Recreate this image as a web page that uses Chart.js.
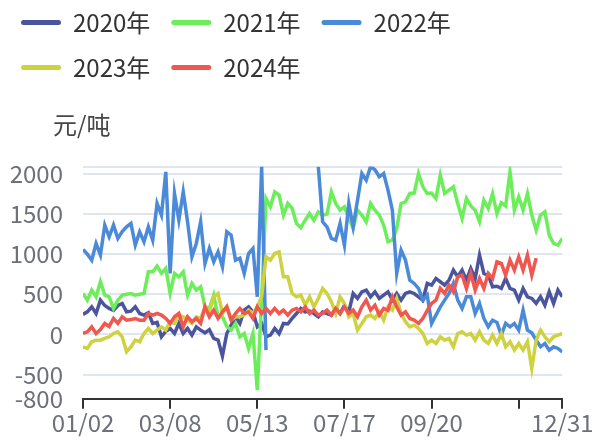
<!DOCTYPE html>
<html>
<head>
<meta charset="utf-8">
<script src="https://cdn.jsdelivr.net/npm/chart.js@4.4.1/dist/chart.umd.min.js"></script>
<style>
    html, body { margin: 0; padding: 0; background: #ffffff; }
    #wrap { width: 600px; height: 441px; }
</style>
</head>
<body>
<div id="wrap"><canvas id="priceChart" width="600" height="441"></canvas></div>
<script>
// --- data (one value per slot, slot 0 = 01/02, slot 110 = 12/31) ---
const xTickPos = [0, 20, 40, 60, 80, 100, 110];
const xTickLabels = ['01/02', '03/08', '05/13', '07/17', '09/20', '', '12/31'];
const yTickVals = [-800, -500, 0, 500, 1000, 1500, 2000];
const yMin = -800;
const yMax = 2090;

const seriesNames = ['2020年', '2021年', '2022年', '2023年', '2024年'];
const seriesColors = ['#4b559e', '#6cee5a', '#4a8ad8', '#cfd23f', '#f0574f'];

const s2020 = [
    250, 282, 344, 261, 427, 360, 324, 300, 360, 386,
    282, 290, 344, 261, 241, 270, 137, 150, -29, 40,
    75, 12, 137, 12, 75, -8, 95, 54, 20, 60,
    -50, -71, -270, 12, 116, 220, 137, 303, 344, 282,
    95, 137, -29, -8, 75, 10, 137, 130, 199, 261,
    324, 282, 290, 261, 220, 280, 260, 241, 320, 261,
    365, 280, 510, 448, 531, 552, 469, 531, 448, 490,
    531, 427, 510, 427, 510, 531, 510, 469, 427, 635,
    614, 697, 656, 614, 676, 801, 718, 801, 676, 822,
    697, 988, 760, 739, 593, 600, 573, 697, 573, 552,
    427, 573, 469, 448, 386, 469, 365, 531, 386, 552, 469
];
const s2021 = [
    510, 427, 552, 469, 656, 490, 469, 324, 427, 490,
    500, 510, 490, 500, 510, 780, 780, 850, 760, 822,
    510, 760, 718, 780, 490, 635, 552, 593, 344, 324,
    490, 220, 220, 100, 54, 137, -29, 12, -174, 12,
    -693, 450, 1693, 1590, 1776, 1735, 1486, 1631, 1569, 1382,
    1330, 1423, 1506, 1423, 1527, 1486, 1500, 1776, 1631, 1548,
    1590, 1450, 1320, 1548, 1486, 1403, 1631, 1548, 1486, 1361,
    1154, 1174, 1320, 1631, 1652, 1755, 1760, 2004, 1838, 1755,
    1760, 1693, 1984, 1755, 1797, 1838, 1631, 1444, 1693, 1600,
    1548, 1403, 1672, 1569, 1755, 1506, 1640, 1600, 2025, 1548,
    1714, 1548, 1755, 1486, 1299, 1486, 1527, 1237, 1133, 1112, 1195
];
const s2022 = [
    1058, 1000, 925, 1133, 988, 1361, 1216, 1361, 1195, 1280,
    1340, 1382, 1112, 1278, 1154, 1340, 1174, 1631, 1486, 2025,
    760, 1755, 1423, 1776, 1403, 967, 1133, 1403, 884, 1071,
    905, 1029, 842, 1278, 1237, 925, 950, 760, 1008, 1071,
    469, 2090, -195, null, null, null, null, null, null, null,
    null, null, null, null, 2090, 1403, 1340, 1195, 1174, 1382,
    1112, 1631, 1340, 1672, 2004, 1921, 2090, 2050, 1963, 2004,
    1797, 1548, 760, 1050, 925, 676, 635, 573, 427, 490,
    137, 241, 344, 427, 510, 635, 427, 324, 469, 469,
    261, 386, 200, 95, 178, 150, -8, 137, 95, 137,
    54, 303, 54, 20, -71, -154, -112, -195, -154, -174, -216
];
const s2023 = [
    -154, -174, -91, -71, -71, -50, -29, 12, 33, -29,
    -216, -154, -71, -91, 12, 75, 12, 54, 95, 54,
    158, 137, 241, 220, 178, 137, 220, 200, 344, 282,
    469, 510, 261, 344, 178, 220, 220, 241, 303, 261,
    344, 469, 967, 925, 1008, 1029, 718, 718, 510, 469,
    490, 365, 469, 344, 448, 573, 510, 407, 261, 469,
    386, 220, 261, 54, 137, 220, 241, 199, 282, 180,
    344, 303, 448, 261, 158, 95, 116, 75, 12, -112,
    -71, -112, -29, -71, -50, -154, 12, 33, -8, 12,
    -71, 33, -71, -112, -8, -112, 12, -154, -91, -195,
    -112, -195, -91, -423, -71, 54, -29, -91, -29, -8, 12
];
const s2024 = [
    12, 33, 95, 12, 60, 137, 100, 199, 137, 220,
    178, 185, 199, 178, 178, 261, 241, 261, 241, 199,
    137, 220, 261, 95, 220, 160, 199, 137, 344, 220,
    303, 200, 282, 344, 178, 261, 324, 261, 282, 199,
    344, 261, 324, 261, 324, 261, 303, 241, 303, 324,
    282, 344, 261, 303, 241, 261, 303, 241, 324, 261,
    344, 261, 303, 220, 344, 427, 303, 365, 241, 324,
    300, 469, 344, 241, 282, 199, 178, 137, 199, 300,
    386, 427, 573, 510, 614, 531, 718, 739, 573, 760,
    552, 697, 573, 760, 697, 905, 884, 739, 925, 801,
    967, 801, 988, 739, 950, null, null, null, null, null, null
];

const FONT = "'Noto Sans CJK SC', 'Noto Sans', sans-serif";

document.addEventListener('DOMContentLoaded', function () {
    const allSeries = [s2020, s2021, s2022, s2023, s2024];

    const datasets = allSeries.map((vals, k) => ({
        label: seriesNames[k],
        data: vals.map((v, i) => ({ x: i, y: v })),
        borderColor: seriesColors[k],
        backgroundColor: seriesColors[k],
        borderWidth: 3.5,
        pointRadius: 0,
        tension: 0,
        spanGaps: false,
        order: allSeries.length - k // later years drawn on top
    }));

    // move the unit label ("元/吨") over the y axis
    const unitLabelPlugin = {
        id: 'unitLabel',
        afterLayout(chart) {
            const t = chart.titleBlock;
            if (t) {
                t.left = chart.chartArea.left - 30;
                t.right = t.left + 200;
            }
        }
    };

    new Chart(document.getElementById('priceChart'), {
        type: 'line',
        data: { datasets },
        plugins: [unitLabelPlugin],
        options: {
            responsive: false,
            animation: false,
            layout: { padding: { top: -10.5, left: 0, right: 37.7, bottom: 3.5 } },
            plugins: {
                legend: {
                    position: 'top',
                    align: 'start',
                    labels: {
                        boxWidth: 40,
                        boxHeight: 5,
                        padding: 21,
                        color: '#333333',
                        useBorderRadius: true,
                        borderRadius: 2.5,
                        font: { size: 24, family: FONT },
                        generateLabels(chart) {
                            const items = Chart.defaults.plugins.legend.labels.generateLabels(chart);
                            items.forEach(it => { it.lineWidth = 0; });
                            return items;
                        },
                        sort: (a, b) => a.datasetIndex - b.datasetIndex
                    }
                },
                title: {
                    display: true,
                    text: '元/吨',
                    align: 'start',
                    weight: 500,
                    color: '#464646',
                    font: { size: 24, family: FONT, weight: 'normal' },
                    padding: { top: 21, bottom: 27.3 }
                },
                tooltip: { enabled: false }
            },
            scales: {
                x: {
                    type: 'linear',
                    min: xTickPos[0],
                    max: xTickPos[xTickPos.length - 1],
                    afterBuildTicks: s => { s.ticks = xTickPos.map(v => ({ value: v })); },
                    ticks: {
                        autoSkip: false,
                        maxRotation: 0,
                        padding: 0,
                        color: '#6e7079',
                        font: { size: 24, family: FONT },
                        callback: (v, i) => xTickLabels[i]
                    },
                    grid: {
                        display: true,
                        drawOnChartArea: false,
                        drawTicks: true,
                        tickLength: 10,
                        color: '#333333',
                        lineWidth: 2
                    },
                    border: { display: true, color: '#333333', width: 2 }
                },
                y: {
                    type: 'linear',
                    min: yMin,
                    max: yMax,
                    afterBuildTicks: s => { s.ticks = yTickVals.concat([yMax]).map(v => ({ value: v })); },
                    afterFit: s => { s.width = 83; },
                    ticks: {
                        padding: 20,
                        color: '#6e7079',
                        font: { size: 24, family: FONT },
                        callback: v => yTickVals.includes(v) ? String(v) : ''
                    },
                    grid: {
                        drawTicks: false,
                        lineWidth: 2,
                        color: c => (c.tick && c.tick.value === yMin) ? 'rgba(0,0,0,0)' : '#e0e6f1'
                    },
                    border: { display: false }
                }
            }
        }
    });
});
</script>
</body>
</html>
